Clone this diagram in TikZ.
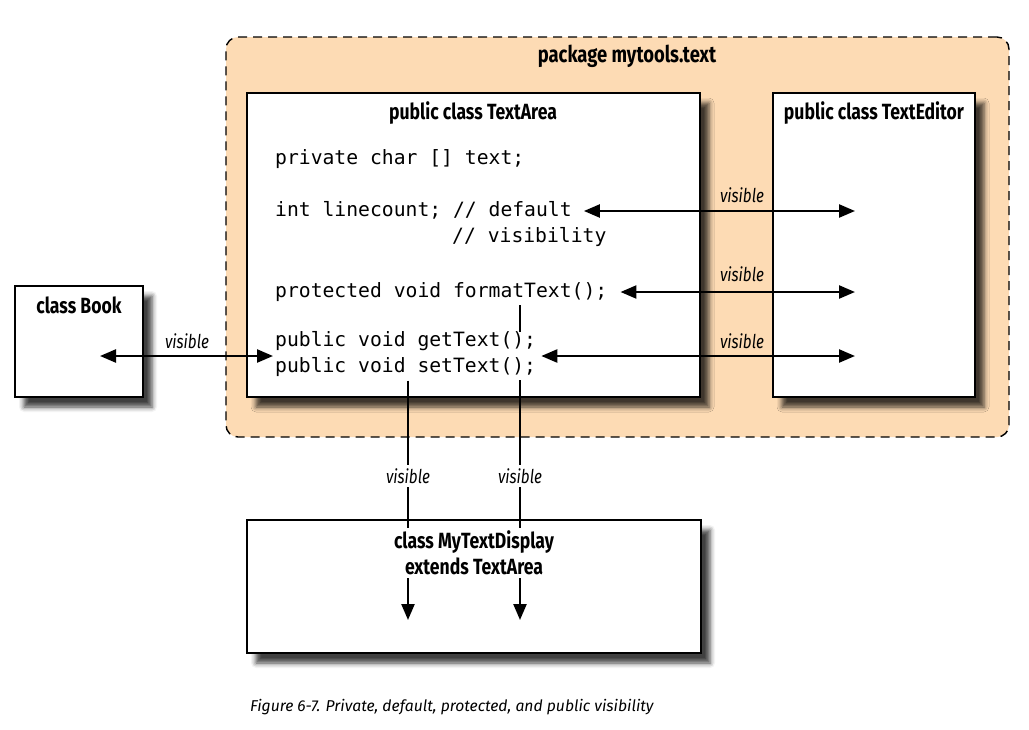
\documentclass[tikz,border=0pt]{standalone}
\usepackage{fontspec}
\usepackage{tikz}
\usetikzlibrary{arrows.meta, shadows.blur}
\newfontfamily\codefont{DejaVu Sans Mono}
\newfontfamily\headfont{Fira Sans}[FakeStretch=0.8]
\newfontfamily\capfont{Fira Sans}
\definecolor{peach}{RGB}{253,219,180}

\begin{document}
\begin{tikzpicture}[x=1pt, y=-1pt,
  pkg/.style={draw, dash pattern=on 9pt off 6pt, line width=1.4pt, rounded corners=12pt, fill=peach},
  cls/.style={draw, line width=2.6pt, fill=white, inner sep=0pt,
    blur shadow={shadow xshift=9pt, shadow yshift=-10pt, shadow blur radius=5pt, shadow opacity=75}},
  head/.style={font=\headfont\bfseries\fontsize{22}{26}\selectfont, inner sep=1pt, align=center},
  code/.style={font=\codefont\fontsize{19.7}{26}\selectfont, inner sep=0pt, anchor=west, align=left,
    execute at begin node=\strut},
  vislabel/.style={font=\headfont\itshape\fontsize{19}{20}\selectfont, inner sep=3pt},
  twoway/.style={line width=2.4pt, {Triangle[length=16pt,width=13pt]}-{Triangle[length=16pt,width=13pt]}},
  oneway/.style={line width=2.4pt, -{Triangle[length=16pt,width=13pt]}}
]
 \useasboundingbox (0,0) rectangle (1029,729);
 % package and classes
 \node[pkg, minimum width=783pt, minimum height=400pt] (pack) at (617.5,237) {};
 \node[cls, minimum width=453pt, minimum height=304pt] (area) at (473.5,245) {};
 \node[cls, minimum width=202pt, minimum height=304pt] (editor) at (874,245) {};
 \node[cls, minimum width=128pt, minimum height=111pt] (book) at (79,341.5) {};
 \node[cls, minimum width=454pt, minimum height=133pt] (display) at (474,586.5) {};
 \node[head, font=\headfont\bfseries\fontsize{23}{26}\selectfont] (packtitle) at (627,56) {package mytools.text};
 \node[head] (areatitle) at (473,113) {public class TextArea};
 \node[head] (edtitle) at (874,113) {public class TextEditor};
 \node[head] (booktitle) at (79,305) {class Book};
 % members of TextArea
 \node[code] (priv) at (275,159) {private char [] text;};
 \node[code] (lc) at (275,211) {int linecount; // default};
 \node[code] (vis) at (452,237) {// visibility};
 \node[code] (fmt) at (275,292) {protected void formatText();};
 \coordinate (dn1) at (408,620);
 \coordinate (dn2) at (520,620);
 \draw[oneway] (fmt.south -| dn2) -- (dn2);
 \node[code, fill=white] (pub) at (275,356) {public void getText();\\public void setText();};
 \draw[oneway] (pub.south -| dn1) -- (dn1);
 % arrows to TextEditor and Book
 \coordinate (ed1) at (855,211);
 \coordinate (ed2) at (855,292);
 \coordinate (ed3) at (855,356);
 \coordinate (bk) at (100,356);
 \draw[twoway] ([xshift=12pt]lc.east) -- (ed1);
 \draw[twoway] ([xshift=13pt]fmt.east) -- (ed2);
 \draw[twoway] ([xshift=5pt]pub.east) -- (ed3);
 \draw[twoway] (bk) -- ([xshift=-2pt]pub.west);
 \node[vislabel] (v1) at (742,195) {visible};
 \node[vislabel] (v2) at (742,274) {visible};
 \node[vislabel] (v3) at (742,341) {visible};
 \node[vislabel] (v4) at (187,341) {visible};
 \node[vislabel, fill=white] (v5) at (408,476) {visible};
 \node[vislabel, fill=white] (v6) at (520,476) {visible};
 \node[head, fill=white, inner sep=3pt] (disptitle) at (474,553) {class MyTextDisplay\\extends TextArea};
 % caption
 \node[font=\capfont\itshape\fontsize{15.7}{18}\selectfont, anchor=west, inner sep=0pt] (cap) at (250,707)
   {Figure 6-7. Private, default, protected, and public visibility};
\end{tikzpicture}
\end{document}
